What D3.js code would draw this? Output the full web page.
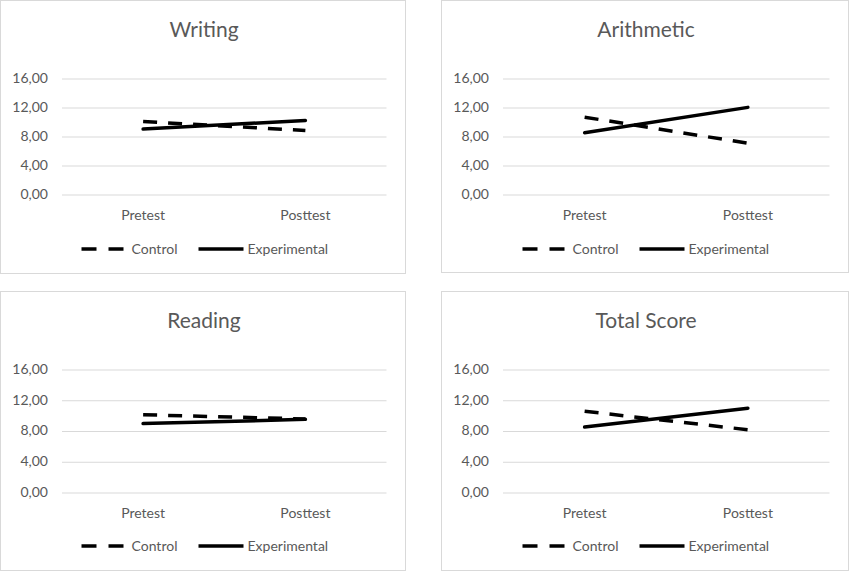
<!DOCTYPE html>
<html>
<head>
<meta charset="utf-8">
<script src="https://cdn.jsdelivr.net/npm/d3@7"></script>
<style>
  html, body { margin: 0; padding: 0; background: #fff; }
  svg { display: block; }
  text { font-family: Lato, "Open Sans", sans-serif; fill: #595959; }
</style>
</head>
<body>
<svg id="chart" width="850" height="572"></svg>
<script>
// ---- data ----
const phases = ["Pretest", "Posttest"];
const seriesNames = ["Control", "Experimental"];
const yTicks = [0, 4, 8, 12, 16];
const subjects = ["Writing", "Arithmetic", "Reading", "Total Score"];
const writingControl = [10.0, 8.75];
const writingExperimental = [8.95, 10.15];
const arithmeticControl = [10.6, 7.0];
const arithmeticExperimental = [8.45, 11.95];
const readingControl = [10.05, 9.5];
const readingExperimental = [8.9, 9.45];
const totalControl = [10.5, 8.1];
const totalExperimental = [8.45, 10.9];

const panelData = [
  { title: subjects[0], control: writingControl, experimental: writingExperimental },
  { title: subjects[1], control: arithmeticControl, experimental: arithmeticExperimental },
  { title: subjects[2], control: readingControl, experimental: readingExperimental },
  { title: subjects[3], control: totalControl, experimental: totalExperimental }
];

// ---- layout ----
const layout = [
  { x: 0.5, y: 0.5, w: 405, h: 273, gTop: 78, gBot: 194, cat: 215, title: 28, leg: 249 },
  { x: 441.5, y: 0.5, w: 407, h: 272, gTop: 78, gBot: 194, cat: 215, title: 28, leg: 249 },
  { x: 0.5, y: 291.5, w: 405, h: 279, gTop: 369, gBot: 492, cat: 513, title: 319, leg: 546 },
  { x: 441.5, y: 291.5, w: 407, h: 279, gTop: 369, gBot: 492, cat: 513, title: 319, leg: 546 }
];

const locale = d3.formatLocale({ decimal: ",", thousands: ".", grouping: [3], currency: ["", ""] });
const fmt = locale.format(".2f");

const svg = d3.select("#chart");

panelData.forEach((d, i) => {
  const L = layout[i];
  const g = svg.append("g");

  g.append("rect")
    .attr("x", L.x).attr("y", L.y).attr("width", L.w).attr("height", L.h)
    .attr("fill", "#fff").attr("stroke", "#d9d9d9").attr("stroke-width", 1);

  const left = L.x + 61.5;
  const right = L.x + L.w - 19;

  const x = d3.scaleBand().domain(phases).range([left, right]);
  const y = d3.scaleLinear().domain([0, 16]).range([L.gBot, L.gTop]);

  // title
  g.append("text")
    .attr("x", L.x + L.w / 2 + 1).attr("y", L.title)
    .attr("text-anchor", "middle").attr("dominant-baseline", "central")
    .attr("font-size", 21).text(d.title);

  // y axis (gridlines + labels)
  const yAxis = d3.axisLeft(y).tickValues(yTicks).tickFormat(fmt)
    .tickSize(-(right - left)).tickPadding(14);
  const ya = g.append("g").attr("transform", `translate(${left},0)`).call(yAxis);
  ya.select(".domain").remove();
  ya.selectAll(".tick line").attr("stroke", "#d9d9d9").attr("stroke-width", 1)
    .attr("transform", "translate(0,0.5)");
  ya.selectAll(".tick text").attr("font-size", 14).attr("fill", "#595959")
    .style("font-family", "Lato, 'Open Sans', sans-serif");

  // x axis labels
  const xAxis = d3.axisBottom(x).tickSize(0).tickPadding(0);
  const xa = g.append("g").attr("transform", `translate(0,${L.cat})`).call(xAxis);
  xa.select(".domain").remove();
  xa.selectAll(".tick text").attr("font-size", 14).attr("fill", "#595959")
    .attr("dy", "0.35em").attr("y", 0)
    .style("font-family", "Lato, 'Open Sans', sans-serif");

  const line = d3.line()
    .x((v, k) => x(phases[k]) + x.bandwidth() / 2)
    .y(v => y(v));

  g.append("path").datum(d.control)
    .attr("d", line).attr("fill", "none").attr("stroke", "#000")
    .attr("stroke-width", 3.5).attr("stroke-dasharray", "14,11");
  g.append("path").datum(d.experimental)
    .attr("d", line).attr("fill", "none").attr("stroke", "#000")
    .attr("stroke-width", 3.5).attr("stroke-linecap", "round");

  // legend
  const lx = L.x + 81;
  const leg = g.append("g").attr("transform", `translate(${lx},${L.leg})`);
  leg.append("line").attr("x1", 0).attr("x2", 42).attr("y1", 0).attr("y2", 0)
    .attr("stroke", "#000").attr("stroke-width", 3.5).attr("stroke-dasharray", "15,12");
  leg.append("text").attr("x", 50).attr("y", 0).attr("dy", "0.35em")
    .attr("font-size", 14).text(seriesNames[0]);
  leg.append("line").attr("x1", 117).attr("x2", 162).attr("y1", 0).attr("y2", 0)
    .attr("stroke", "#000").attr("stroke-width", 3.5);
  leg.append("text").attr("x", 166).attr("y", 0).attr("dy", "0.35em")
    .attr("font-size", 14).text(seriesNames[1]);
});
</script>
</body>
</html>
